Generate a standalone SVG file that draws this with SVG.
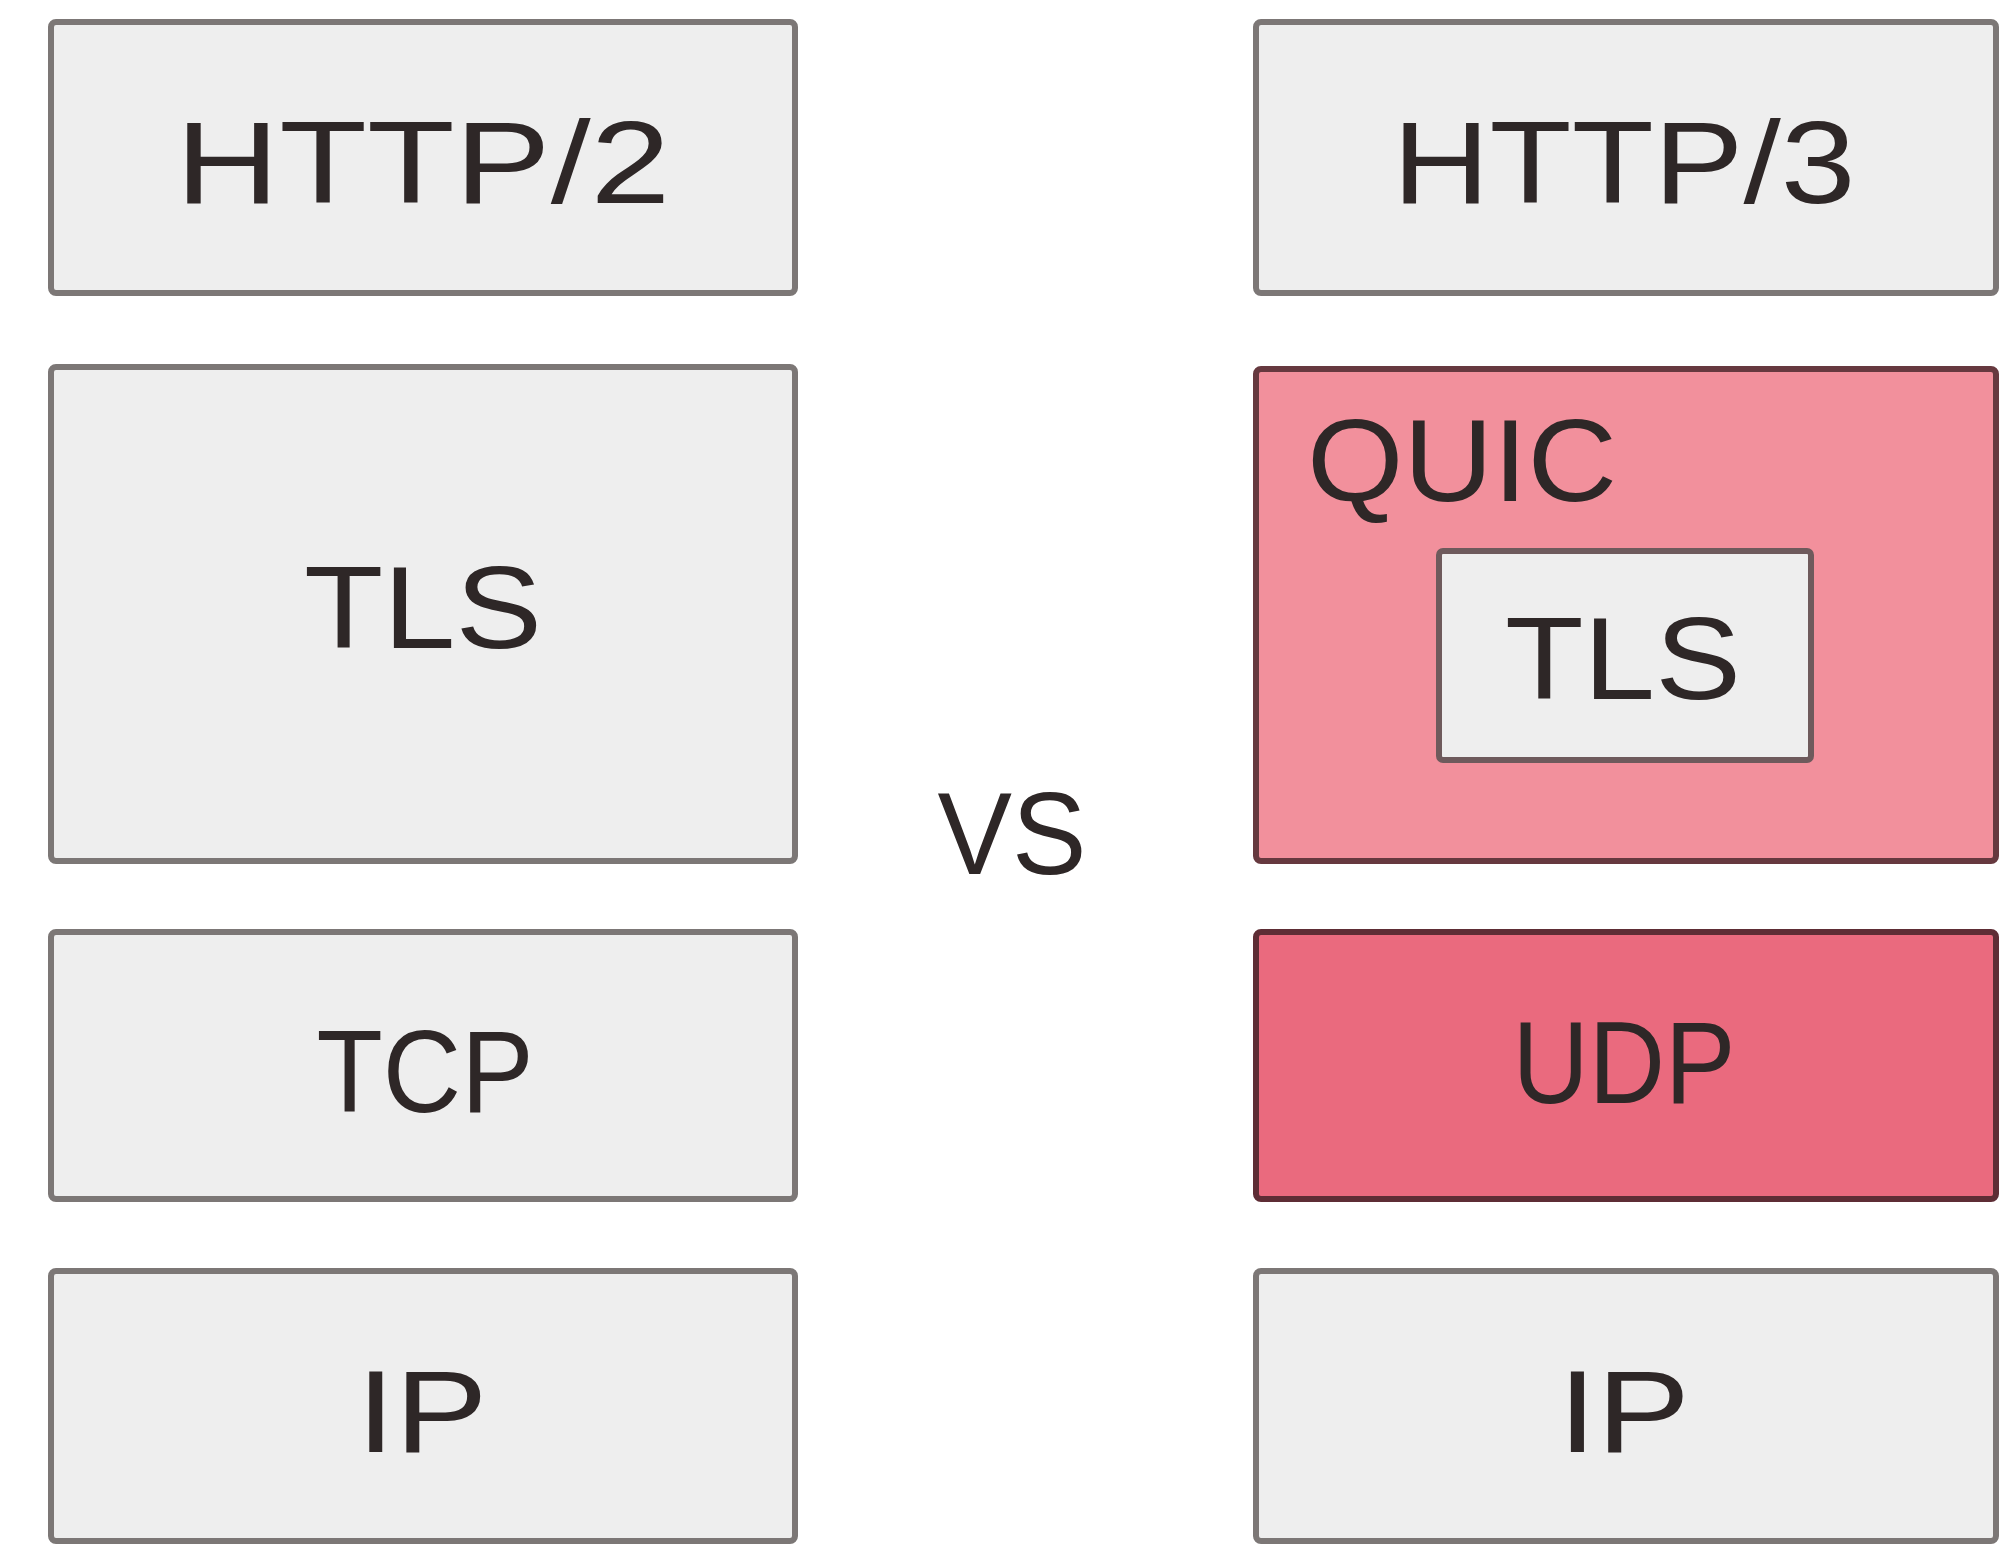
<svg xmlns="http://www.w3.org/2000/svg" width="2000" height="1551" viewBox="0 0 2000 1551">
<style>
.box{fill:#eeeeee;stroke:#7c7776;stroke-width:6}
.quic{fill:#f2909c;stroke:#66393f;stroke-width:6}
.udp{fill:#ea6a7e;stroke:#5e2d35;stroke-width:6}
.lbl{font-family:"Liberation Sans","DejaVu Sans",sans-serif;font-size:116px;fill:#2e2727;text-anchor:middle}
</style>
<rect width="2000" height="1551" fill="#ffffff"/>
<g id="left-http2"><rect class="box" x="51" y="22" width="744" height="271" rx="5"/><text class="lbl" x="423" y="203" textLength="495" lengthAdjust="spacingAndGlyphs">HTTP/2</text></g>
<g id="left-tls"><rect class="box" x="51" y="367" width="744" height="494" rx="5"/><text class="lbl" x="423" y="648" textLength="238" lengthAdjust="spacingAndGlyphs">TLS</text></g>
<g id="left-tcp"><rect class="box" x="51" y="932" width="744" height="267" rx="5"/><text class="lbl" x="425" y="1112" textLength="217" lengthAdjust="spacingAndGlyphs">TCP</text></g>
<g id="left-ip"><rect class="box" x="51" y="1271" width="744" height="270" rx="5"/><text class="lbl" x="422" y="1452" textLength="131" lengthAdjust="spacingAndGlyphs">IP</text></g>
<g id="vs"><text class="lbl" x="1012" y="874" textLength="149" lengthAdjust="spacingAndGlyphs">VS</text></g>
<g id="right-http3"><rect class="box" x="1256" y="22" width="740" height="271" rx="5"/><text class="lbl" x="1624" y="203" textLength="463" lengthAdjust="spacingAndGlyphs">HTTP/3</text></g>
<g id="right-quic"><rect class="quic" x="1256" y="369" width="740" height="492" rx="5"/><text class="lbl" x="1307" y="501" textLength="310" lengthAdjust="spacingAndGlyphs" style="text-anchor:start">QUIC</text></g>
<g id="right-tls"><rect class="box" x="1439" y="551" width="372" height="209" rx="4" style="stroke:#6e5a5c"/><text class="lbl" x="1623" y="699" textLength="236" lengthAdjust="spacingAndGlyphs">TLS</text></g>
<g id="right-udp"><rect class="udp" x="1256" y="932" width="740" height="267" rx="5"/><text class="lbl" x="1624" y="1103" textLength="223" lengthAdjust="spacingAndGlyphs">UDP</text></g>
<g id="right-ip"><rect class="box" x="1256" y="1271" width="740" height="270" rx="5"/><text class="lbl" x="1624" y="1452" textLength="132" lengthAdjust="spacingAndGlyphs">IP</text></g>
<g id="connectors"></g>
</svg>
